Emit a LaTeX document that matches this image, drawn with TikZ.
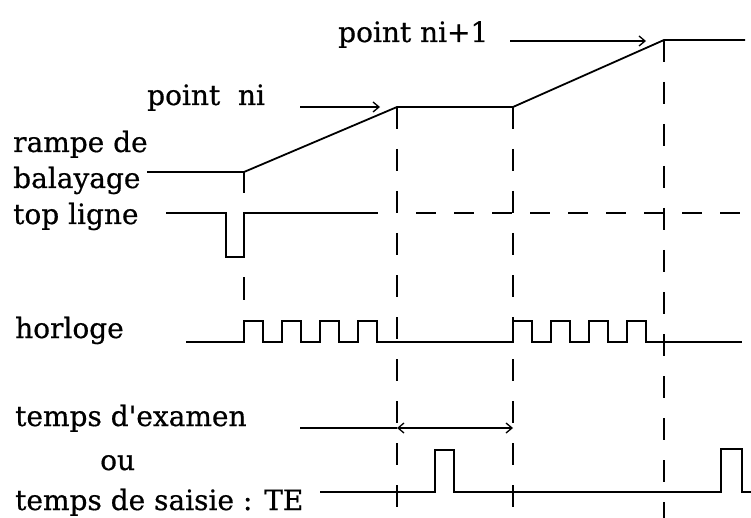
\documentclass[tikz,border=0pt]{standalone}
\usepackage{fontspec}
\setmainfont{DejaVu Serif}
\newfontfamily\lblfont{DejaVu Serif}[FakeBold=0.6]
\usetikzlibrary{arrows.meta}
\begin{document}
\begin{tikzpicture}[x=1pt,y=-1pt,
  lbl/.style={anchor=base west, inner sep=0pt, font=\lblfont\fontsize{28}{32}\selectfont},
  sig/.style={line width=1.8pt, line join=miter, line cap=butt},
  guide/.style={line width=2.5pt, dash pattern=on 22pt off 20pt},
  tickline/.style={line width=2.5pt},
  tldash/.style={line width=1.8pt, dash pattern=on 20pt off 18pt},
  ptr/.style={line width=1.3pt, -{Straight Barb[length=6pt,width=10pt]}},
  spanarrow/.style={line width=1.3pt, {Straight Barb[length=6pt,width=10pt]}-{Straight Barb[length=6pt,width=10pt]}},
]
\useasboundingbox (0,0) rectangle (751,518);

% labels
\node[lbl] (pni1) at (338,42) {point ni+1};
\node[lbl] (pni)  at (147,105) {point~ ni};
\node[lbl] (rampe) at (13,152) {rampe de};
\node[lbl] (balay) at (13,188) {balayage};
\node[lbl] (top)   at (13,224) {top ligne};
\node[lbl] (horl)  at (15,338) {horloge};
\node[lbl] (exam)  at (15,426) {temps d'examen};
\node[lbl] (ou)    at (100,470) {ou};
\node[lbl] (te)    at (15,510) {temps de saisie : TE};

% key coordinates
\coordinate (r0) at (244,172);
\coordinate (r1) at (397,107);
\coordinate (r2) at (513,107);
\coordinate (r3) at (664,40);
\coordinate (a1s) at (300,107);
\coordinate (a1e) at (380,107);
\coordinate (a2s) at (510,41);
\coordinate (a2e) at (646,41);
\coordinate (ex0) at (300,428);
\coordinate (ex1) at (397,428);
\coordinate (ex2) at (513,428);

% rampe de balayage
\draw[sig] (147,172) -- (r0) -- (r1) -- (r2) -- (r3) -- (745,40);
\draw[ptr] (a1s) -- (a1e);
\draw[ptr] (a2s) -- (a2e);

% top ligne
\draw[sig] (166,213) -- (226,213) -- (226,257) -- (244,257) -- (244,213) -- (378,213);
\draw[tldash] (416,213) -- (745,213);

% horloge
\draw[sig] (186,342) -- (244,342)
  \foreach \s in {244,282,320,358} { -- (\s,342) -- (\s,321) -- ({\s+19},321) -- ({\s+19},342) }
  -- (513,342)
  \foreach \s in {513,551,589,627} { -- (\s,342) -- (\s,321) -- ({\s+19},321) -- ({\s+19},342) }
  -- (742,342);

% temps d'examen
\draw[sig, line width=1.4pt] (ex0) -- (ex1);
\draw[spanarrow] (ex1) -- (ex2);

% TE
\draw[sig] (320,492) -- (435,492) -- (435,450) -- (454,450) -- (454,492)
  -- (721,492) -- (721,449) -- (742,449) -- (742,492) -- (751,492);

% guide lines
\draw[tickline] (r0) -- (244,193);
\draw[tickline] (244,277) -- (244,300);
\draw[guide] (r1) -- (397,518);
\draw[guide] (r2) -- (513,518);
\draw[guide] (r3) -- (664,518);
\end{tikzpicture}
\end{document}
